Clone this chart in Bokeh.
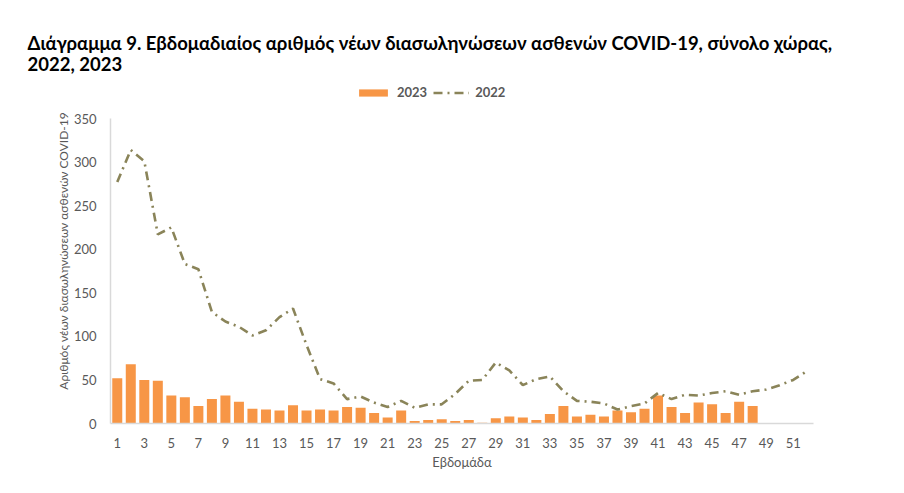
from bokeh.plotting import figure
from bokeh.models import Range1d, FixedTicker, Legend, LegendItem, Title
from bokeh.embed import file_html
from bokeh.resources import INLINE

# ---- data ----
weeks_2023 = list(range(1, 49))
values_2023 = [52, 68, 50, 49, 32, 30, 20, 28, 32, 25,
               17, 16, 15, 21, 15, 16, 15, 19, 18, 12,
               7, 15, 3, 4, 5, 3, 4, 1, 6, 8,
               7, 4, 11, 20, 8, 10, 8, 15, 13, 17,
               32, 19, 12, 24, 22, 12, 25, 20]
weeks_2022 = list(range(1, 53))
values_2022 = [277, 314, 301, 217, 225, 183, 177, 128, 117, 111,
               101, 107, 122, 132, 90, 51, 46, 28, 31, 24,
               19, 26, 18, 22, 22, 34, 49, 50, 70, 61,
               44, 51, 54, 37, 26, 25, 23, 16, 20, 23,
               35, 28, 33, 32, 35, 37, 33, 37, 39, 44,
               50, 60]
x_ticks = list(range(1, 52, 2))
y_ticks = [0, 50, 100, 150, 200, 250, 300, 350]
y_max = 350

title_line1 = "Διάγραμμα 9. Εβδομαδιαίος αριθμός νέων διασωληνώσεων ασθενών COVID-19, σύνολο χώρας,"
title_line2 = "2022, 2023"
x_label = "Εβδομάδα"
y_label = "Αριθμός νέων διασωληνώσεων ασθενών COVID-19"

FONT = "Lato"
TXT = "#595959"

# layout geometry (pixels)
W, H = 904, 493
FRAME_L, FRAME_R, FRAME_T, FRAME_B = 110, 813, 78, 423
AXIS_TOP = 118  # pixel where the value 350 sits
y_end = y_max * (FRAME_B - FRAME_T) / (FRAME_B - AXIS_TOP)

p = figure(width=W, height=H, output_backend="svg", toolbar_location=None,
           x_range=Range1d(0.5, 52.5), y_range=Range1d(0, y_end),
           min_border_left=FRAME_L, min_border_right=W - FRAME_R,
           min_border_bottom=H - FRAME_B, min_border_top=FRAME_T)
p.outline_line_color = None
p.xgrid.grid_line_color = None
p.ygrid.grid_line_color = None
p.background_fill_color = "white"
p.border_fill_color = "white"

bars = p.vbar(x=weeks_2023, top=values_2023, width=0.74, color="#f79646", line_color=None)
line = p.line(x=weeks_2022, y=values_2022, line_color="#8a8459", line_width=2.6,
              line_dash="9 5 2 5")

# axes
p.xaxis.ticker = FixedTicker(ticks=x_ticks)
p.yaxis.ticker = FixedTicker(ticks=y_ticks)
p.yaxis.bounds = (0, y_max)
for ax in (p.xaxis[0], p.yaxis[0]):
    ax.axis_line_color = "#d9d9d9"
    ax.axis_line_width = 1.5
    ax.major_tick_line_color = None
    ax.minor_tick_line_color = None
    ax.major_label_text_font = FONT
    ax.major_label_text_color = TXT
    ax.major_label_text_font_size = "13px"
    ax.axis_label_text_font = FONT
    ax.axis_label_text_color = TXT
    ax.axis_label_text_font_style = "normal"
p.xaxis.axis_label_text_font_size = "13px"
p.yaxis.axis_label_text_font_size = "12px"
p.xaxis.major_label_standoff = 8
p.yaxis.major_label_standoff = 8
p.xaxis.axis_label = x_label
p.yaxis.axis_label = y_label
p.xaxis.axis_label_standoff = 3
p.yaxis.axis_label_standoff = 0

# legend (inside the extended frame, above the 350 level)
legend = Legend(items=[LegendItem(label="2023", renderers=[bars]),
                       LegendItem(label="2022", renderers=[line])],
                orientation="horizontal", location=(245, 323),
                label_text_font=FONT, label_text_color=TXT, label_text_font_size="13px",
                label_text_font_style="bold",
                glyph_width=36, glyph_height=9, spacing=6, label_standoff=6,
                border_line_color=None, background_fill_alpha=0,
                margin=0, padding=2)
p.add_layout(legend, "center")

# titles
t2 = Title(text=title_line2, align="left", text_font=FONT, text_font_size="18.5px",
           text_font_style="bold", text_color="black", offset=-83, standoff=8)
p.add_layout(t2, "above")
p.title.text = title_line1
p.title.align = "left"
p.title.text_font = FONT
p.title.text_font_size = "18.5px"
p.title.text_font_style = "bold"
p.title.text_color = "black"
p.title.offset = -83
p.title.standoff = -14

open("out.html", "w").write(file_html(p, INLINE))
